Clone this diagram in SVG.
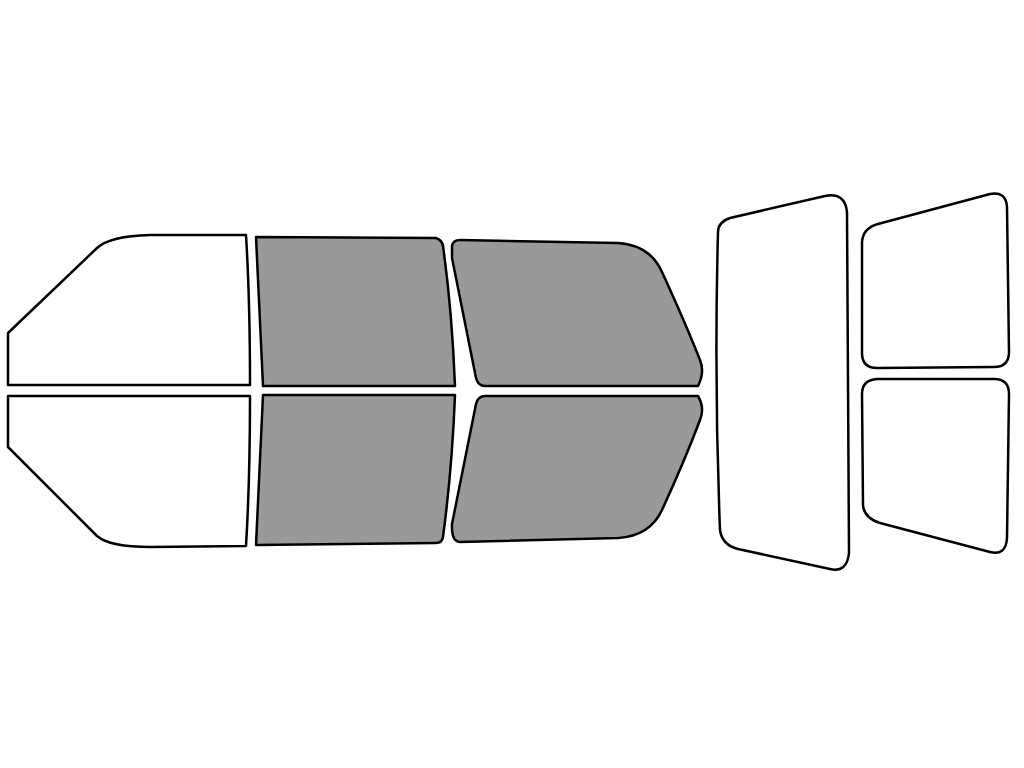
<svg xmlns="http://www.w3.org/2000/svg" width="1024" height="768" viewBox="0 0 1024 768">
<style>path{stroke:#000;stroke-width:2.5;stroke-linejoin:round}.w{fill:#fff}.g{fill:#999}</style>
<rect width="1024" height="768" fill="#fff"/>
<g id="fl-top"><path class="w" d="M8,333 L97,248 Q110,236 150,235 L246,235 Q250,300 250,385 L8,385 Z"/></g>
<g id="fl-bot"><path class="w" d="M8,447 L97,536 Q110,547 150,547 L246,546 Q250,480 250,396 L8,396 Z"/></g>
<g id="fd-top"><path class="g" d="M256,237 L436,238 Q442,240 443,246 Q452,310 455,386 L263,386 Z"/></g>
<g id="fd-bot"><path class="g" d="M263,395 L455,395 Q452,470 443,537 Q442,543 436,543 L256,545 Z"/></g>
<g id="rd-top"><path class="g" d="M452,246 Q453,240 460,240 L618,243 Q650,245 662,272 Q685,322 700,360 Q705,372 698,386 L485,386 Q478,386 476,378 L452,258 Z"/></g>
<g id="rd-bot"><path class="g" d="M452,530 Q453,542 460,542 L618,538 Q650,536 662,510 Q685,460 700,420 Q705,408 698,396 L485,396 Q478,396 476,404 L452,524 Z"/></g>
<g id="rear"><path class="w" d="M718,232 Q718,222 730,218 L825,196 Q845,192 847,212 L849,553 Q847,573 830,569 L738,549 Q722,545 720,530 Q714,380 718,232 Z"/></g>
<g id="q-top"><path class="w" d="M862,242 Q863,228 878,224 L990,194 Q1006,191 1007,207 L1009,352 Q1009,367 994,367 L877,368 Q862,368 862,353 Z"/></g>
<g id="q-bot"><path class="w" d="M862,394 Q862,380 877,379 L994,379 Q1009,379 1009,394 L1007,538 Q1006,556 990,552 L880,523 Q864,518 863,505 Z"/></g>
</svg>
